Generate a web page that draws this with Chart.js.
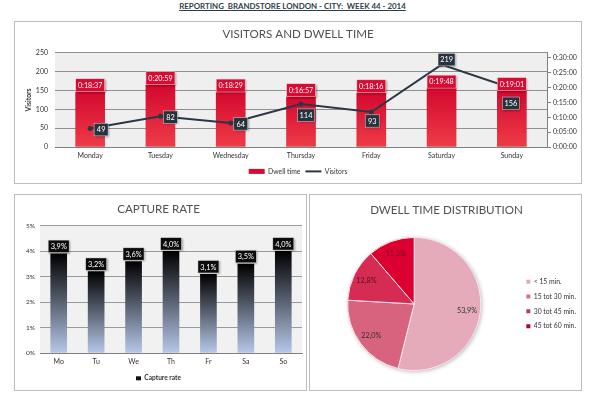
<!DOCTYPE html>
<html>
<head>
<meta charset="utf-8">
<script src="https://cdn.jsdelivr.net/npm/chart.js@4/dist/chart.umd.min.js"></script>
<style>
  html, body { margin: 0; background: #fff; }
  body { width: 600px; height: 404px; position: relative; overflow: hidden; font-family: Lato, sans-serif; }
  #head { position: absolute; left: 0; width: 585px; top: 0; text-align: center; font-size: 7.9px; font-weight: 700; color: #2c3e4a; text-decoration: underline; line-height: 13px; white-space: pre; }
  .panel { position: absolute; box-sizing: border-box; border: 1px solid #bdbdbd; }
  .panel canvas { position: absolute; left: 0; top: 0; }
  #p1 { left: 14px; top: 21px; width: 568px; height: 163px; }
  #p2 { left: 14px; top: 194px; width: 293px; height: 197px; }
  #p3 { left: 309px; top: 194px; width: 273px; height: 197px; }
</style>
</head>
<body>
<div id="head">REPORTING  BRANDSTORE LONDON - CITY:  WEEK 44 - 2014</div>
<div class="panel" id="p1"><canvas id="chartVisitors" width="566" height="161"></canvas></div>
<div class="panel" id="p2"><canvas id="chartCapture" width="291" height="195"></canvas></div>
<div class="panel" id="p3"><canvas id="chartDwell" width="271" height="195"></canvas></div>
<script>
// ── Data ──
const days = ['Monday', 'Tuesday', 'Wednesday', 'Thursday', 'Friday', 'Saturday', 'Sunday'];
const dwellTimes = ['0:18:37', '0:20:59', '0:18:29', '0:16:57', '0:18:16', '0:19:48', '0:19:01'];
const visitors = [49, 82, 64, 114, 93, 219, 156];
const clockTicks = [0, 300, 600, 900, 1200, 1500, 1800];

const shortDays = ['Mo', 'Tu', 'We', 'Th', 'Fr', 'Sa', 'So'];
const captureRate = [3.9, 3.2, 3.6, 4.0, 3.1, 3.5, 4.0];

const dwellBuckets = ['< 15 min.', '15 tot 30 min.', '30 tot 45 min.', '45 tot 60 min.'];
const dwellShare = [53.9, 22.0, 12.8, 11.3];

// label placement of the visitor boxes, dx/dy from the point
const visitorLabelOffsets = [[11, 1], [10, 1], [10, 1], [5, 11], [1, 9], [5, -5], [-1, 15]];

const FONT = 'Lato, sans-serif';
const TICK = '#333';
const GRID = '#8e8e8e';

Chart.defaults.font.family = FONT;
Chart.defaults.animation = false;
Chart.defaults.responsive = false;

// ── Helpers ──
function toSeconds(s) {
  const p = s.split(':').map(Number);
  return p[0] * 3600 + p[1] * 60 + p[2];
}

function fmtClock(v) {
  const m = Math.floor(v / 60), sec = v % 60;
  return '0:' + String(m).padStart(2, '0') + ':' + String(sec).padStart(2, '0');
}

function pct(v) {
  return v.toFixed(1).replace('.', ',') + '%';
}

function labelBox(ctx, cx, cy, w, h, fill, text, size) {
  ctx.save();
  ctx.shadowColor = 'rgba(0,0,0,0.35)';
  ctx.shadowBlur = 2;
  ctx.shadowOffsetX = 1;
  ctx.shadowOffsetY = 1;
  ctx.fillStyle = fill;
  ctx.fillRect(cx - w / 2, cy - h / 2, w, h);
  ctx.restore();
  ctx.strokeStyle = 'rgba(255,255,255,0.6)';
  ctx.lineWidth = 0.7;
  ctx.strokeRect(cx - w / 2, cy - h / 2, w, h);
  ctx.fillStyle = '#fff';
  ctx.font = size + 'px ' + FONT;
  ctx.textAlign = 'center';
  ctx.textBaseline = 'middle';
  ctx.fillText(text, cx, cy + 0.5);
}

// vertical gradient running the height of a single bar
function barGradient(axis, top, bottom) {
  return c => {
    const { chart, parsed } = c;
    if (!chart.chartArea || !parsed) return bottom;
    const y0 = chart.scales[axis].getPixelForValue(parsed.y);
    const y1 = chart.chartArea.bottom;
    const g = chart.ctx.createLinearGradient(0, y0, 0, y1);
    g.addColorStop(0, top);
    g.addColorStop(1, bottom);
    return g;
  };
}

const plotBackground = color => ({
  id: 'plotBackground',
  beforeDraw(chart) {
    const a = chart.chartArea;
    chart.ctx.fillStyle = color;
    chart.ctx.fillRect(a.left, a.top, a.width, a.height);
  },
});

// ── Visitors and dwell time ──
const visitorLabels = {
  id: 'visitorLabels',
  afterDatasetsDraw(chart) {
    const ctx = chart.ctx;
    chart.getDatasetMeta(0).data.forEach((bar, i) => {
      labelBox(ctx, bar.x, bar.y - 6.5, 29, 13, '#d80b33', dwellTimes[i], 7.2);
    });
    chart.getDatasetMeta(1).data.forEach((pt, i) => {
      const [dx, dy] = visitorLabelOffsets[i];
      const w = visitors[i] > 99 ? 17 : 14;
      labelBox(ctx, pt.x + dx, pt.y + dy, w, 12.5, '#26323e', String(visitors[i]), 7.4);
    });
  },
};

new Chart(document.getElementById('chartVisitors'), {
  type: 'bar',
  data: {
    labels: days,
    datasets: [
      {
        label: 'Dwell time',
        data: dwellTimes.map(toSeconds),
        yAxisID: 'y2',
        order: 2,
        barThickness: 29,
        backgroundColor: barGradient('y2', '#d4082f', '#ee3c47'),
      },
      {
        type: 'line',
        label: 'Visitors',
        data: visitors,
        yAxisID: 'y',
        order: 1,
        borderColor: '#2b3844',
        backgroundColor: '#2b3844',
        borderWidth: 2,
        pointRadius: 1.5,
        tension: 0,
      },
    ],
  },
  options: {
    plugins: {
      title: { display: true, text: 'VISITORS AND DWELL TIME', color: '#505050', font: { size: 11.6, weight: 'normal' }, padding: { top: 5, bottom: 12 } },
      legend: {
        position: 'bottom',
        maxHeight: 20,
        labels: {
          usePointStyle: true, pointStyleWidth: 16, boxHeight: 5, color: TICK, font: { size: 6.8 }, padding: 5,
          generateLabels() {
            return [
              { text: 'Dwell time', fillStyle: '#d80b33', strokeStyle: '#d80b33', pointStyle: 'rect', lineWidth: 0, datasetIndex: 0, fontColor: TICK },
              { text: 'Visitors', fillStyle: '#2b3844', strokeStyle: '#2b3844', pointStyle: 'line', lineWidth: 2, datasetIndex: 1, fontColor: TICK },
            ];
          },
        },
      },
      tooltip: { enabled: false },
    },
    scales: {
      x: {
        grid: { display: false, drawTicks: false },
        border: { color: '#808080' },
        ticks: { color: TICK, font: { size: 7 }, padding: 5, maxRotation: 0 },
        afterFit(s) { s.height = 16; },
      },
      y: {
        min: 0, max: 250,
        title: { display: true, text: 'Visitors', color: '#333', font: { size: 6.8, weight: 'bold' }, padding: { top: 10, bottom: 0 } },
        grid: { color: GRID, drawTicks: false },
        border: { display: false },
        ticks: { color: TICK, font: { size: 7 }, stepSize: 50, padding: 7 },
        afterFit(s) { s.width = 40; },
      },
      y2: {
        position: 'right',
        min: 0, max: 1900,
        grid: { drawOnChartArea: false, tickLength: 4, color: '#808080' },
        border: { color: '#808080' },
        ticks: { color: TICK, font: { size: 7 }, padding: 2, callback: fmtClock },
        afterBuildTicks(s) { s.ticks = clockTicks.map(value => ({ value })); },
        afterFit(s) { s.width = 34; },
      },
    },
  },
  plugins: [plotBackground('#efefef'), visitorLabels],
});

// ── Capture rate ──
const captureLabels = {
  id: 'captureLabels',
  afterDatasetsDraw(chart) {
    const ctx = chart.ctx;
    chart.getDatasetMeta(0).data.forEach((bar, i) => {
      labelBox(ctx, bar.x, bar.y - 7.5, 21, 12.5, '#0c0c0c', pct(captureRate[i]), 7.4);
    });
  },
};

new Chart(document.getElementById('chartCapture'), {
  type: 'bar',
  data: {
    labels: shortDays,
    datasets: [{
      label: 'Capture rate',
      data: captureRate,
      barThickness: 16,
      backgroundColor: barGradient('y', '#000000', '#b6c8e8'),
    }],
  },
  options: {
    layout: { padding: { right: 4 } },
    plugins: {
      title: { display: true, text: 'CAPTURE RATE', color: '#505050', font: { size: 11.6, weight: 'normal' }, padding: { top: 7, bottom: 10 } },
      legend: {
        position: 'bottom',
        maxHeight: 21,
        labels: {
          boxWidth: 5, boxHeight: 4, color: TICK, font: { size: 6.6, weight: 'bold' }, padding: 6,
          generateLabels() {
            return [{ text: 'Capture rate', fillStyle: '#111', strokeStyle: '#111', lineWidth: 0, datasetIndex: 0, fontColor: TICK }];
          },
        },
      },
      tooltip: { enabled: false },
    },
    scales: {
      x: {
        grid: { display: false, drawTicks: false },
        border: { color: '#808080' },
        ticks: { color: TICK, font: { size: 7 }, padding: 5, maxRotation: 0 },
        afterFit(s) { s.height = 16; },
      },
      y: {
        min: 0, max: 5,
        grid: { color: '#9a9a9a', drawTicks: false },
        border: { display: false },
        ticks: { color: TICK, font: { size: 6.5 }, stepSize: 1, padding: 5, callback: v => v + '%' },
        afterFit(s) { s.width = 25; },
      },
    },
  },
  plugins: [plotBackground('#f1f1f1'), captureLabels],
});

// ── Dwell time distribution ──
const pieColors = ['#e5abbb', '#d8637f', '#d62b52', '#dc0030'];
const pieLegendColors = ['#e5abbb', '#d8708c', '#bc3a62', '#a00a2c'];
const pieTextColors = ['#333', '#3a2a2e', '#5a0f25', '#7a0a22'];

const pieExtras = {
  id: 'pieExtras',
  beforeDatasetsDraw(chart) {
    const first = chart.getDatasetMeta(0).data[0];
    const ctx = chart.ctx;
    ctx.save();
    ctx.shadowColor = 'rgba(0,0,0,0.3)';
    ctx.shadowBlur = 4;
    ctx.shadowOffsetX = 1;
    ctx.shadowOffsetY = 1;
    ctx.fillStyle = '#e5abbb';
    ctx.beginPath();
    ctx.arc(first.x, first.y, first.outerRadius, 0, Math.PI * 2);
    ctx.fill();
    ctx.restore();
  },
  afterDatasetsDraw(chart) {
    const ctx = chart.ctx;
    ctx.font = '7.3px ' + FONT;
    ctx.textAlign = 'center';
    ctx.textBaseline = 'middle';
    chart.getDatasetMeta(0).data.forEach((arc, i) => {
      const mid = (arc.startAngle + arc.endAngle) / 2;
      ctx.fillStyle = pieTextColors[i];
      ctx.fillText(pct(dwellShare[i]), arc.x + Math.cos(mid) * arc.outerRadius * 0.8, arc.y + Math.sin(mid) * arc.outerRadius * 0.8);
    });
  },
};

new Chart(document.getElementById('chartDwell'), {
  type: 'pie',
  data: {
    labels: dwellBuckets,
    datasets: [{
      data: dwellShare,
      backgroundColor: pieColors,
      borderColor: '#f8e6ea',
      borderWidth: 1,
    }],
  },
  options: {
    layout: { padding: { left: -3, right: -5, bottom: 19 } },
    plugins: {
      title: { display: true, text: 'DWELL TIME DISTRIBUTION', color: '#505050', font: { size: 11.6, weight: 'normal' }, padding: { top: 8, bottom: 20 } },
      legend: {
        position: 'right',
        fullSize: false,
        labels: {
          boxWidth: 4, boxHeight: 4, color: TICK, font: { size: 6.8 }, padding: 8,
          generateLabels() {
            return dwellBuckets.map((text, i) => ({ text, fillStyle: pieLegendColors[i], strokeStyle: pieLegendColors[i], lineWidth: 0, index: i, fontColor: TICK }));
          },
        },
      },
      tooltip: { enabled: false },
    },
  },
  plugins: [pieExtras],
});
</script>
</body>
</html>
